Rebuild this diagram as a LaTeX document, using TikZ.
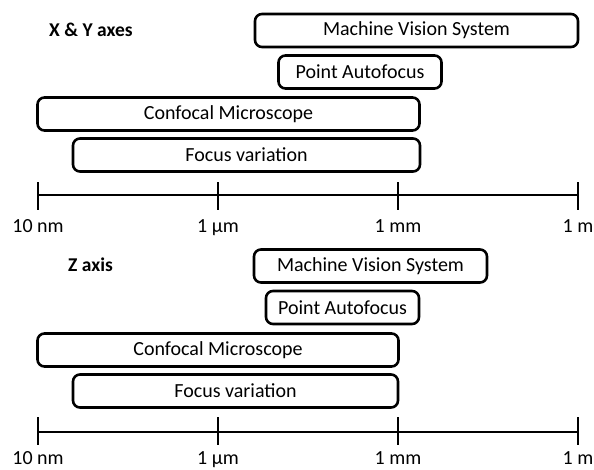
\documentclass[tikz,border=0pt]{standalone}
\usepackage{fontspec}
\setmainfont{Carlito}
\begin{document}
\begin{tikzpicture}[x=1pt,y=-1pt,
  box/.style={draw=black,line width=2.6pt,rounded corners=7pt,inner sep=0pt,font=\fontsize{20}{24}\selectfont},
  axisline/.style={line width=2.8pt},
  lbl/.style={font=\fontsize{20}{24}\selectfont,inner sep=0pt,anchor=base},
  ttl/.style={font=\bfseries\fontsize{19.5}{24}\selectfont,inner sep=0pt,anchor=west}]
\useasboundingbox (0,0) rectangle (594,469);
% ---- top panel ----
\node[ttl] (t1) at (49,30) {X \& Y axes};
\node[box,minimum width=323pt,minimum height=33pt] (m1) at (416.5,30.5) {Machine Vision System};
\node[box,minimum width=163pt,minimum height=33pt] (p1) at (360,72) {Point Autofocus};
\node[box,minimum width=382pt,minimum height=33pt] (c1) at (228.5,114) {Confocal Microscope};
\node[box,minimum width=347pt,minimum height=33pt] (f1) at (246.5,155) {Focus variation};
\foreach \i/\x in {a/38,b/218,c/398,d/578}{
  \coordinate (t1\i) at (\x,182);
  \coordinate (b1\i) at (\x,210);
  \draw[axisline] (t1\i) -- (b1\i);
}
\coordinate (l1s) at (38,195);
\coordinate (l1e) at (578,195);
\draw[axisline] (l1s) -- (l1e);
\node[lbl] (n1a) at (38,232) {10 nm};
\node[lbl] (n1b) at (218,232) {1 µm};
\node[lbl] (n1c) at (398,232) {1 mm};
\node[lbl] (n1d) at (578,232) {1 m};
% ---- bottom panel ----
\node[ttl] (t2) at (68,265) {Z axis};
\node[box,minimum width=233pt,minimum height=33pt] (m2) at (370.5,266) {Machine Vision System};
\node[box,minimum width=153pt,minimum height=33pt] (p2) at (342.5,307.5) {Point Autofocus};
\node[box,minimum width=361pt,minimum height=33pt] (c2) at (218,350) {Confocal Microscope};
\node[box,minimum width=325pt,minimum height=33pt] (f2) at (235.5,391) {Focus variation};
\foreach \i/\x in {a/38,b/218,c/398,d/578}{
  \coordinate (t2\i) at (\x,417);
  \coordinate (b2\i) at (\x,445);
  \draw[axisline] (t2\i) -- (b2\i);
}
\coordinate (l2s) at (38,432);
\coordinate (l2e) at (578,432);
\draw[axisline] (l2s) -- (l2e);
\node[lbl] (n2a) at (38,464) {10 nm};
\node[lbl] (n2b) at (218,464) {1 µm};
\node[lbl] (n2c) at (398,464) {1 mm};
\node[lbl] (n2d) at (578,464) {1 m};
\end{tikzpicture}
\end{document}
